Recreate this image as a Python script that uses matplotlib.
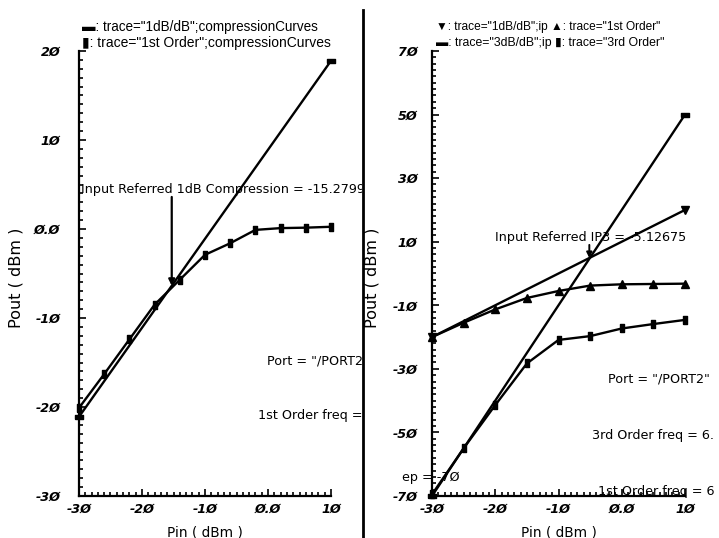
import numpy as np
import matplotlib
matplotlib.use("Agg")
import matplotlib.pyplot as plt
from matplotlib import font_manager
from matplotlib.ticker import MultipleLocator, FixedLocator, FixedFormatter
from matplotlib.transforms import Bbox, TransformedBbox

# ---- compression curves (left panel) ----
pin_comp = [-30, -26, -22, -18, -14, -10, -6, -2, 2, 6, 10]
pout_first_comp = [-20.1, -16.3, -12.4, -8.5, -5.7, -2.9, -1.6, -0.1, 0.1, 0.15, 0.25]
pin_1db = [-30, 10]
pout_1db = [-21.1, 18.9]
p1db_in = -15.2799

# ---- IP3 curves (right panel) ----
pin_ip = [-30, -25, -20, -15, -10, -5, 0, 5, 10]
pout_first_ip = [-20.0, -15.5, -11.3, -7.7, -5.5, -3.8, -3.4, -3.3, -3.2]
pout_third_ip = [-69.5, -55.0, -41.4, -28.3, -20.9, -19.7, -17.3, -15.9, -14.6]
pin_1db_ip = [-30, 10]
pout_1db_ip = [-20.0, 20.0]
pin_3db_ip = [-30, 10]
pout_3db_ip = [-70.0, 50.0]
ip3_in = -5.12675

xticks = [-30, -20, -10, 0, 10]
xticklabels = ["-3Ø", "-2Ø", "-1Ø", "Ø.Ø", "1Ø"]
yticks_left = [-30, -20, -10, 0, 10, 20]
yticklabels_left = ["-3Ø", "-2Ø", "-1Ø", "Ø.Ø", "1Ø", "2Ø"]
yticks_right = [-70, -50, -30, -10, 10, 30, 50, 70]
yticklabels_right = ["-7Ø", "-5Ø", "-3Ø", "-1Ø", "1Ø", "3Ø", "5Ø", "7Ø"]

W, H = 719, 538
fig = plt.figure(figsize=(W / 100, H / 100), dpi=100)
fig.patch.set_facecolor("white")

FONT = "DejaVu Sans"
FS = 9.2

installed = {f.name for f in font_manager.fontManager.ttflist}
narrow = next((n for n in ("Liberation Sans Narrow", "DejaVu Sans Condensed",
                           "Liberation Sans") if n in installed), FONT)
LEGEND_FONT = [narrow, "DejaVu Sans"]

def px_axes(l, r, b, t):
    return fig.add_axes([l / W, 1 - b / H, (r - l) / W, (b - t) / H])

ax1 = px_axes(79, 331, 496, 51)
ax2 = px_axes(432, 685, 496, 51)

wide = [(-1.0, -0.55), (1.0, -0.55), (1.0, 0.55), (-1.0, 0.55), (-1.0, -0.55)]
tall = [(-0.55, -1.0), (0.55, -1.0), (0.55, 1.0), (-0.55, 1.0), (-0.55, -1.0)]

LW = 1.7
kw = dict(color="black", lw=LW, clip_on=False, zorder=3)

ax1.plot(pin_1db, pout_1db, marker=wide, ms=6, **kw)
ax1.plot(pin_comp, pout_first_comp, marker=tall, ms=6, **kw)

ax2.plot(pin_1db_ip, pout_1db_ip, marker="v", ms=5.5, **kw)
ax2.plot(pin_ip, pout_first_ip, marker="^", ms=5.5, **kw)
ax2.plot(pin_3db_ip, pout_3db_ip, marker=wide, ms=6, **kw)
ax2.plot(pin_ip, pout_third_ip, marker=tall, ms=6, **kw)

def style_axes(ax, yticks, ylabels, ylim, yminor, ypad):
    ax.set_xlim(-30, 10)
    ax.set_ylim(*ylim)
    for s in ("top", "right"):
        ax.spines[s].set_visible(False)
    for s in ("left", "bottom"):
        ax.spines[s].set_linewidth(1.6)
    ax.xaxis.set_major_locator(FixedLocator(xticks))
    ax.xaxis.set_major_formatter(FixedFormatter(xticklabels))
    ax.yaxis.set_major_locator(FixedLocator(yticks))
    ax.yaxis.set_major_formatter(FixedFormatter(ylabels))
    ax.xaxis.set_minor_locator(MultipleLocator(1))
    ax.yaxis.set_minor_locator(MultipleLocator(yminor))
    ax.tick_params(which="both", direction="in", width=1.2, colors="black")
    ax.tick_params(which="major", length=5)
    ax.tick_params(which="minor", length=2.8)
    ax.tick_params(axis="x", which="major", pad=5)
    ax.tick_params(axis="y", which="major", pad=ypad)
    for lab in ax.get_xticklabels() + ax.get_yticklabels():
        lab.set_fontfamily(FONT)
        lab.set_fontsize(FS)
        lab.set_fontweight("bold")
        lab.set_fontstyle("oblique")
    ax.set_facecolor("none")

style_axes(ax1, yticks_left, yticklabels_left, (-30, 20), 1, 13.5)
style_axes(ax2, yticks_right, yticklabels_right, (-70, 70), 2, 10.5)

for ax, xl in ((ax1, -0.222), (ax2, -0.209)):
    ax.set_xlabel("Pin ( dBm )", fontfamily=FONT, fontsize=FS + 0.6)
    ax.set_ylabel("Pout ( dBm )", fontfamily=FONT, fontsize=11.6)
    ax.xaxis.set_label_coords(0.5, -0.066)
    ax.yaxis.set_label_coords(xl, 0.49)

left_clip = TransformedBbox(Bbox([[0, 0], [361.5 / W, 1]]), fig.transFigure)
renderer = fig.canvas.get_renderer()

def ftext(x, y, s, clip=None, family=FONT, width=None, **k):
    t = fig.text(x / W, 1 - y / H, s, ha="left", va="center",
                 fontfamily=family, fontsize=FS, **k)
    if width is not None:
        w = t.get_window_extent(renderer).width
        t.set_fontsize(FS * width / w)
    if clip is not None:
        t.set_clip_box(clip)
        t.set_clip_on(True)
    return t

# legends
ftext(82, 27, "▬: trace=\"1dB/dB\";compressionCurves", family=LEGEND_FONT, width=235)
ftext(82, 43, "▮: trace=\"1st Order\";compressionCurves", family=LEGEND_FONT, width=248)
ftext(436, 27, "▼: trace=\"1dB/dB\";ip ▲: trace=\"1st Order\"", family=LEGEND_FONT, width=224)
ftext(436, 43, "▬: trace=\"3dB/dB\";ip ▮: trace=\"3rd Order\"", family=LEGEND_FONT, width=226)

# left panel annotations
ftext(81, 190, "Input Referred 1dB Compression = -15.2799", clip=left_clip)
ftext(267, 361, "Port = \"/PORT2\"", clip=left_clip)
ftext(258, 415, "1st Order freq = 6.", clip=left_clip)

tip1 = float(np.interp(p1db_in, pin_1db, pout_1db))
ax1.annotate("", xy=(p1db_in, tip1), xytext=(p1db_in, 3.6),
             arrowprops=dict(arrowstyle="-|>", color="black", lw=1.6,
                             mutation_scale=9, shrinkA=0, shrinkB=0))

# right panel annotations
ftext(495, 237, "Input Referred IP3 = -5.12675")
ftext(608, 379, "Port = \"/PORT2\"")
ftext(592, 436, "3rd Order freq = 6.")
ftext(402, 477, "ep = -7Ø")
ftext(598, 492, "1st Order freq = 6")

tip2 = float(np.interp(ip3_in, pin_1db_ip, pout_1db_ip))
ax2.annotate("", xy=(ip3_in, tip2), xytext=(ip3_in, 9.0),
             arrowprops=dict(arrowstyle="-|>", color="black", lw=1.4,
                             mutation_scale=8, shrinkA=0, shrinkB=0))

# panel divider
fig.add_artist(plt.Line2D([363 / W, 363 / W], [0, 1 - 10 / H],
                          transform=fig.transFigure, color="black", lw=2.0))

fig.savefig("out.png", dpi=100, facecolor="white")
